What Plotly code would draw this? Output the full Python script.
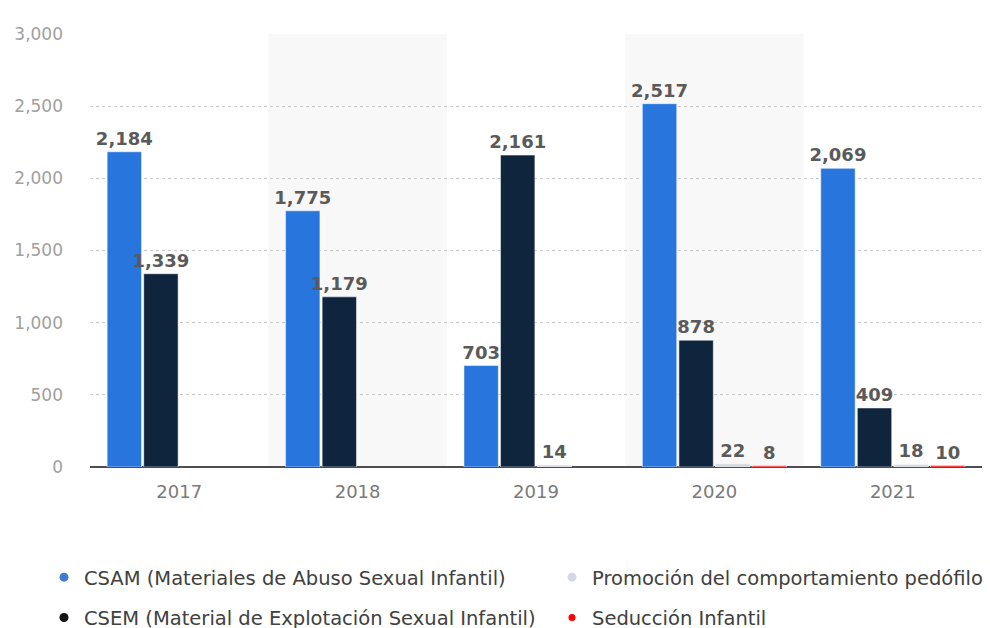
import plotly.graph_objects as go

years = ["2017", "2018", "2019", "2020", "2021"]
csam = [2184, 1775, 703, 2517, 2069]
csem = [1339, 1179, 2161, 878, 409]
promo = [None, None, 14, 22, 18]
seduccion = [None, None, None, 8, 10]

names = [
    "CSAM (Materiales de Abuso Sexual Infantil)",
    "CSEM (Material de Explotación Sexual Infantil)",
    "Promoción del comportamiento pedófilo",
    "Seducción Infantil",
]
colors = ["#2876dd", "#0f253d", "#d3d8de", "#ff0000"]
legend_colors = ["#3f7ad0", "#111111", "#d3d8e2", "#ff0000"]
series = [csam, csem, promo, seduccion]

FONT = "DejaVu Sans"

fig = go.Figure()
for name, vals, col in zip(names, series, colors):
    fig.add_trace(go.Bar(
        x=years, y=vals, name=name, marker=dict(color=col, line=dict(color="white", width=0.5)),
        texttemplate="%{y:,}", textposition="outside", cliponaxis=False,
        constraintext="none",
        textfont=dict(family=FONT, size=18, color="#5a5a5a", weight="bold"),
        showlegend=False,
    ))

legend_ids = ["legend", "legend", "legend2", "legend2"]
for i, (name, col, lid) in enumerate(zip(names, legend_colors, legend_ids)):
    fig.add_trace(go.Scatter(
        x=[years[0]], y=[None], mode="markers", name=name,
        marker=dict(color=col, size=9 if i < 3 else 7, symbol="circle"),
        legend=lid, legendgroup=f"g{i}", showlegend=True, hoverinfo="skip",
    ))

# alternating band shading for 2018 and 2020
for idx in [1, 3]:
    fig.add_shape(type="rect", xref="x", yref="paper", x0=idx - 0.5, x1=idx + 0.5,
                  y0=0, y1=1, fillcolor="#f8f8f8", line=dict(width=0), layer="below")

legend_common = dict(
    xref="container", yref="container", xanchor="left", yanchor="top",
    orientation="v", font=dict(family=FONT, size=19.5, color="#404040"),
    bgcolor="rgba(0,0,0,0)", tracegroupgap=12, itemclick=False,
)

fig.update_layout(
    width=990, height=628,
    margin=dict(l=90, r=8, t=34, b=161, autoexpand=False),
    plot_bgcolor="white", paper_bgcolor="white",
    barmode="group", bargap=0.18, bargroupgap=0.06,
    font=dict(family=FONT),
    xaxis=dict(
        type="category", showgrid=False, showline=False, ticks="",
        tickfont=dict(family=FONT, size=18, color="#7a7a7a"),
        ticklabelstandoff=12, range=[-0.5, 4.5],
    ),
    yaxis=dict(
        range=[0, 3000], tickvals=[0, 500, 1000, 1500, 2000, 2500, 3000],
        tickformat=",", showgrid=True, gridcolor="#c8c8c8", griddash="dot", gridwidth=1,
        zeroline=True, zerolinecolor="#4d4d4d", zerolinewidth=2,
        tickfont=dict(family=FONT, size=17, color="#a0a0a0"),
        ticklabelstandoff=26, showline=False,
    ),
    legend=dict(x=44 / 990, y=1 - 558 / 628, **legend_common),
    legend2=dict(x=552 / 990, y=1 - 558 / 628, **legend_common),
)

fig.write_html("out.html")
